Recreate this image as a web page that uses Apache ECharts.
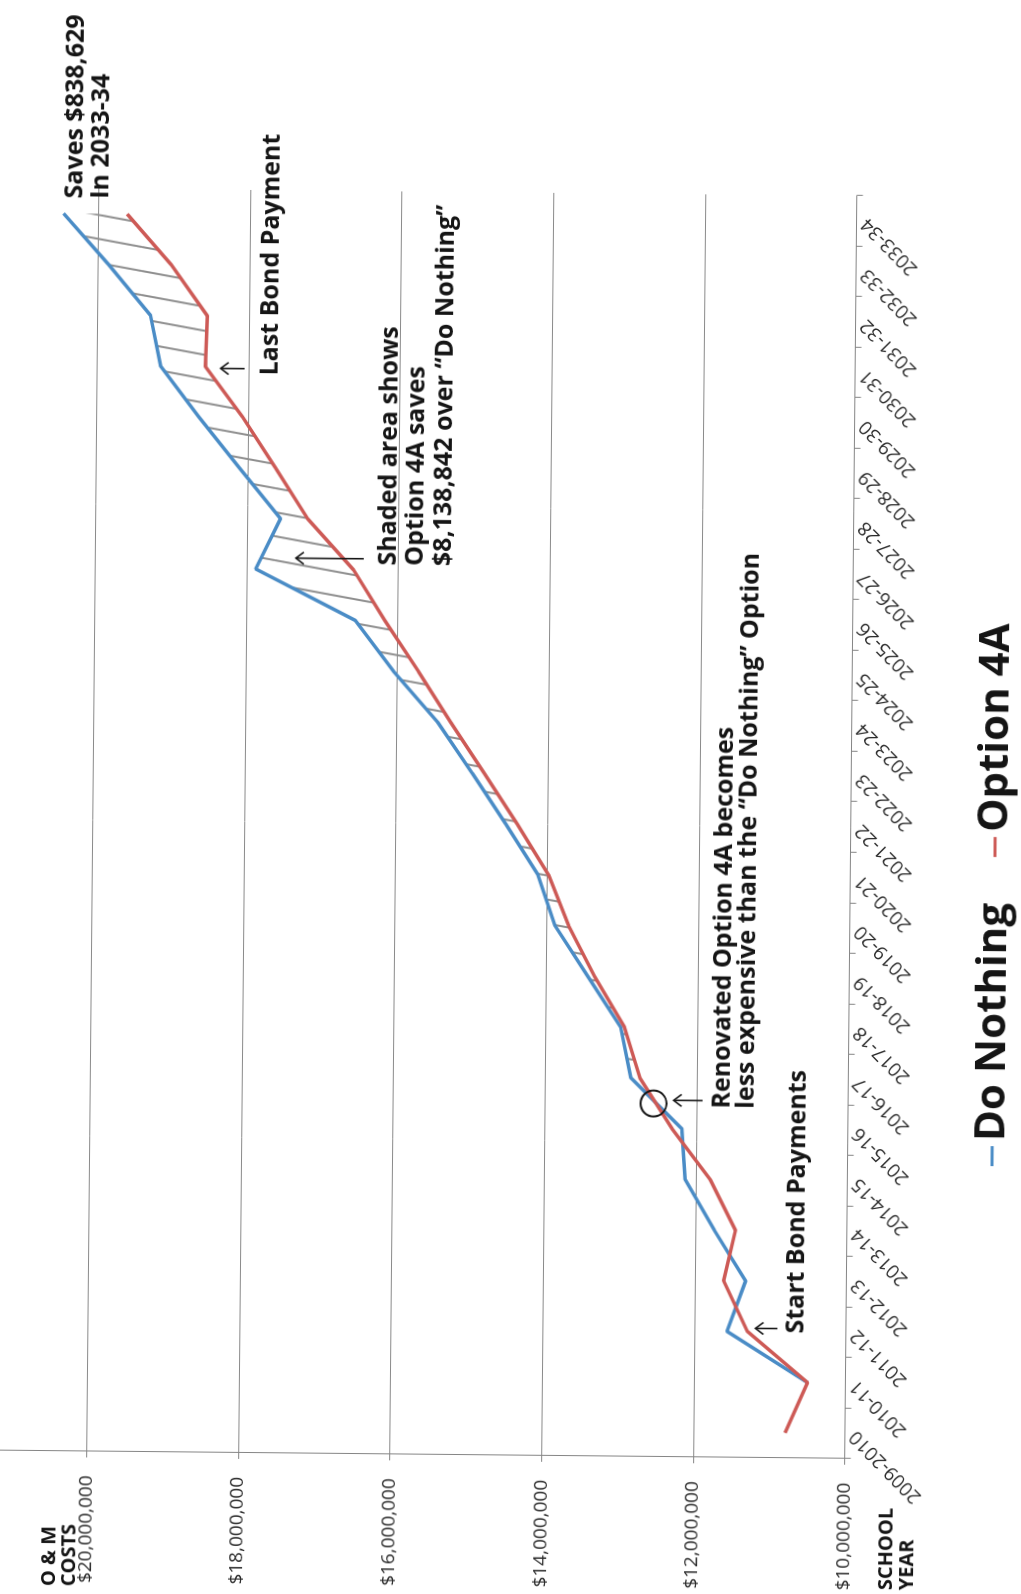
<!DOCTYPE html>
<html>
<head>
<meta charset="utf-8">
<script src="https://cdn.jsdelivr.net/npm/echarts@6/dist/echarts.min.js"></script>
<style>
  html, body { margin: 0; padding: 0; width: 1021px; height: 1594px; overflow: hidden; background: #ffffff; }
  /* The chart is laid out landscape and turned to read up the page. */
  #chart {
    position: absolute;
    width: 1594px; height: 1021px;
    left: -286.5px; top: 286.5px;
    transform-origin: 50% 50%;
    transform: rotate(-89.45deg);
    background: #ffffff;
  }
</style>
</head>
<body>
<div id="chart"></div>
<script>
// School years on the horizontal axis
const schoolYears = [
  '2009-2010', '2010-11', '2011-12', '2012-13', '2013-14', '2014-15', '2015-16',
  '2016-17', '2017-18', '2018-19', '2019-20', '2020-21', '2021-22', '2022-23',
  '2023-24', '2024-25', '2025-26', '2026-27', '2027-28', '2028-29', '2029-30',
  '2030-31', '2031-32', '2032-33', '2033-34'
];

// Operations & maintenance costs, dollars per school year
const doNothing = [
  null, 10500000, 11570000, 11330000, 11750000, 12140000, 12190000,
  12870000, 13010000, 13450000, 13890000, 14120000, 14550000, 15000000,
  15460000, 16050000, 16560000, 17880000, 17560000, 18110000, 18650000,
  19160000, 19300000, 19860000, 20458629
];
const option4A = [
  10790000, 10500000, 11300000, 11620000, 11470000, 11810000, 12320000,
  12750000, 12960000, 13360000, 13710000, 13980000, 14400000, 14840000,
  15290000, 15720000, 16170000, 16590000, 17200000, 17630000, 18070000,
  18570000, 18550000, 19030000, 19620000
];

// Cost axis range and step
const costMin = 10000000;
const costMax = 22000000;
const costStep = 2000000;

const FONT = '"Open Sans", "Liberation Sans", sans-serif';
const BLUE = '#4a8cc6';
const RED = '#cd5a56';
const INK = '#151515';

// Savings band: from the year Option 4A stays below "Do Nothing" onward
let savingsStart = 0;
for (let i = 0; i < schoolYears.length; i++) {
  if (doNothing[i] == null || doNothing[i] <= option4A[i]) savingsStart = i + 1;
}
const bandBase = option4A.map((v, i) => (i >= savingsStart ? v : null));
const bandGap = option4A.map((v, i) => (i >= savingsStart ? doNothing[i] - v : null));

// Diagonal hatching used to fill the savings band
function hatchCanvas() {
  const w = 24, h = 136;
  const c = document.createElement('canvas');
  c.width = w; c.height = h;
  const g = c.getContext('2d');
  g.strokeStyle = '#8e8e8e';
  g.lineWidth = 2;
  for (const x0 of [0, w, 2 * w]) {
    g.beginPath();
    g.moveTo(x0, 0);
    g.lineTo(x0 - w, h);
    g.stroke();
  }
  return c;
}

function money(v) {
  return '$' + Math.round(v).toString().replace(/\B(?=(\d{3})+(?!\d))/g, ',');
}

function label(text, x, y, size, weight) {
  return {
    type: 'text', x: x, y: y, z: 20,
    style: {
      text: text, fill: INK, fontSize: size, fontWeight: weight || 'bold',
      fontFamily: FONT, align: 'left', verticalAlign: 'middle'
    }
  };
}

// Open-headed arrow pointing toward smaller y
function arrowUp(x, tail, head) {
  return [
    { type: 'polyline', z: 20, shape: { points: [[x, tail], [x, head]] },
      style: { stroke: INK, lineWidth: 1.6, fill: null } },
    { type: 'polyline', z: 20, shape: { points: [[x - 6, head + 8], [x, head], [x + 6, head + 8]] },
      style: { stroke: INK, lineWidth: 1.6, fill: null } }
  ];
}

const chart = echarts.init(document.getElementById('chart'), null, { renderer: 'canvas' });

const graphics = [
  label('O & M', 4, 56, 20),
  label('COSTS', 4, 76, 20),
  label('SCHOOL', 8, 893, 20),
  label('YEAR', 8, 914, 20),
  label('Saves $838,629', 1391.8, 69, 25),
  label('In 2033-34', 1391.8, 95, 25),
  label('Last Bond Payment', 1216.7, 266, 25),
  label('Shaded area shows', 1027.8, 386, 25),
  label('Option 4A saves', 1027.8, 413, 25),
  label('$8,138,842 over \u201CDo Nothing\u201D', 1027.8, 441, 25),
  label('Renovated Option 4A becomes', 488, 725, 25),
  label('less expensive than the \u201CDo Nothing\u201D Option', 488, 748.5, 25),
  label('Start Bond Payments', 263.7, 801, 25),
  { type: 'circle', z: 20, shape: { cx: 492.4, cy: 655.9, r: 13 },
    style: { fill: null, stroke: INK, lineWidth: 2 } }
].concat(
  arrowUp(1223.3, 240, 216),
  arrowUp(1034.3, 361, 293),
  arrowUp(495.7, 705, 676),
  arrowUp(268.5, 782, 760)
);

chart.setOption({
  animation: false,
  backgroundColor: '#ffffff',
  textStyle: { fontFamily: FONT },
  grid: {
    left: 139, right: 192, top: -59.4, bottom: 170.4,
    containLabel: false, outerBoundsMode: 'none'
  },
  legend: {
    data: ['Do Nothing', 'Option 4A'],
    left: 428, top: 969,
    icon: 'rect', itemWidth: 20, itemHeight: 3, itemGap: 46,
    textStyle: { fontSize: 42, fontWeight: 'bold', fontFamily: FONT, color: INK }
  },
  xAxis: {
    type: 'category',
    data: schoolYears,
    boundaryGap: true,
    axisLine: { show: true, lineStyle: { color: '#858585', width: 1 } },
    axisTick: { show: true, length: 6, lineStyle: { color: '#858585' } },
    axisLabel: { rotate: 45, fontSize: 19, color: '#2a2a2a', margin: 8, fontFamily: FONT, interval: 0 },
    splitLine: { show: false }
  },
  yAxis: {
    type: 'value',
    min: costMin, max: costMax, interval: costStep,
    axisLine: { show: true, lineStyle: { color: '#858585', width: 1 } },
    axisTick: { show: true, length: 6, lineStyle: { color: '#858585' } },
    axisLabel: { formatter: money, fontSize: 19, color: '#2a2a2a', margin: 24, fontFamily: FONT, showMaxLabel: false },
    splitLine: { show: true, lineStyle: { color: '#8a8a8a', width: 1 } }
  },
  series: [
    {
      name: 'savingsBase', type: 'line', stack: 'savings', data: bandBase,
      symbol: 'none', silent: true, lineStyle: { opacity: 0 }, legendHoverLink: false
    },
    {
      name: 'savingsBand', type: 'line', stack: 'savings', data: bandGap,
      symbol: 'none', silent: true, lineStyle: { opacity: 0 },
      areaStyle: { color: { image: hatchCanvas(), repeat: 'repeat' }, opacity: 1 }
    },
    {
      name: 'Do Nothing', type: 'line', data: doNothing, symbol: 'none',
      color: BLUE, lineStyle: { color: BLUE, width: 3.5 }
    },
    {
      name: 'Option 4A', type: 'line', data: option4A, symbol: 'none',
      color: RED, lineStyle: { color: RED, width: 3.5 }
    }
  ],
  graphic: graphics
});
</script>
</body>
</html>
